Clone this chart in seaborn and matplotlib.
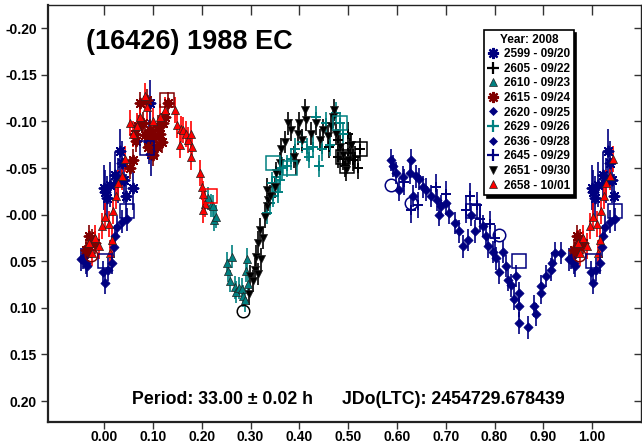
import matplotlib
matplotlib.use("Agg")
import matplotlib.pyplot as plt
from matplotlib.lines import Line2D
import numpy as np
import pandas as pd
import seaborn as sns

# sessions: label, colour, marker
sessions = ["2599 - 09/20", "2605 - 09/22", "2610 - 09/23", "2615 - 09/24", "2620 - 09/25",
            "2629 - 09/26", "2636 - 09/28", "2645 - 09/29", "2651 - 09/30", "2658 - 10/01"]
colors = ["#000080", "#000000", "#008080", "#800000", "#000080",
          "#008080", "#000080", "#000080", "#000000", "#ff0000"]
markers = [(8, 2, 0), "+", "^", (8, 2, 0), "D", "+", "D", "+", "v", "^"]
errors = [0.024, 0.012, 0.012, 0.012, 0.012, 0.012, 0.012, 0.014, 0.012, 0.014]

# phase / reduced magnitude per session (phase 0..1)
p2599 = [0.999, 0.005, 0.002, 0.012, 0.022, 0.029, 0.033, 0.036, 0.040, 0.045, 0.060, 0.094, 0.092, 0.097]
m2599 = [-0.029, -0.018, -0.024, -0.032, -0.043, -0.037, -0.068, -0.055, -0.037, -0.020, -0.029, -0.120, -0.078, -0.065]

p2605 = [0.460, 0.480, 0.480, 0.490, 0.493, 0.500, 0.500, 0.503, 0.510, 0.514, 0.520, 0.524]
m2605 = [-0.073, -0.080, -0.062, -0.060, -0.052, -0.087, -0.066, -0.077, -0.059, -0.062, -0.050, -0.070]

p2610 = [0.213, 0.218, 0.224, 0.226, 0.230, 0.251, 0.254, 0.258, 0.262, 0.268, 0.270, 0.277, 0.282, 0.285,
         0.288, 0.290, 0.292, 0.295]
m2610 = [-0.018, -0.010, -0.009, 0.006, 0.002, 0.052, 0.060, 0.071, 0.045, 0.078, 0.083, 0.079, 0.080, 0.087,
         0.092, 0.060, 0.048, 0.074]

p2615 = [0.962, 0.965, 0.968, 0.970, 0.975, 0.982, 0.053, 0.060, 0.063, 0.066, 0.070, 0.074, 0.080, 0.084,
         0.087, 0.090, 0.094, 0.098, 0.101, 0.104, 0.108, 0.111, 0.114, 0.118, 0.121, 0.125, 0.131]
m2615 = [0.038, 0.041, 0.023, 0.034, 0.027, 0.030, -0.050, -0.059, -0.087, -0.079, -0.095, -0.120, -0.098, -0.085,
         -0.123, -0.073, -0.091, -0.082, -0.064, -0.084, -0.073, -0.095, -0.087, -0.078, -0.098, -0.105, -0.120]

p2620 = [0.588, 0.592, 0.598, 0.605, 0.612, 0.626, 0.629, 0.633, 0.639, 0.646, 0.653, 0.660, 0.670, 0.683,
         0.690, 0.687, 0.700, 0.707, 0.718, 0.728, 0.735, 0.745, 0.752, 0.759]
m2620 = [-0.059, -0.052, -0.045, -0.027, -0.040, -0.045, -0.059, -0.020, -0.041, -0.038, -0.030, -0.027, -0.020, -0.016,
         -0.009, 0.000, -0.012, -0.002, 0.009, 0.018, 0.034, 0.027, 0.000, 0.018]

p2629 = [0.333, 0.339, 0.343, 0.346, 0.352, 0.356, 0.360, 0.365, 0.374, 0.382, 0.392, 0.405, 0.415, 0.420,
         0.428, 0.435, 0.440, 0.446, 0.455, 0.462, 0.476, 0.483, 0.490]
m2629 = [-0.002, -0.012, -0.034, -0.020, -0.040, -0.024, -0.037, -0.050, -0.052, -0.060, -0.070, -0.078, -0.070, -0.062,
         -0.073, -0.105, -0.052, -0.070, -0.098, -0.075, -0.109, -0.098, -0.087]

p2636 = [0.776, 0.783, 0.786, 0.796, 0.803, 0.810, 0.817, 0.824, 0.827, 0.834, 0.840, 0.844, 0.851, 0.851,
         0.850, 0.868, 0.881, 0.885, 0.895, 0.895, 0.905, 0.915, 0.918, 0.923, 0.936, 0.953, 0.956, 0.963,
         0.965, 0.998, 0.002, 0.008, 0.016, 0.022, 0.027, 0.037, 0.047, 0.020]
m2636 = [0.0125, 0.023, 0.034, 0.040, 0.047, 0.062, 0.040, 0.055, 0.070, 0.076, 0.090, 0.066, 0.084, 0.098,
         0.116, 0.121, 0.098, 0.107, 0.084, 0.077, 0.066, 0.059, 0.052, 0.041, 0.041, 0.048, 0.046, 0.052,
         0.055, 0.062, 0.073, 0.059, 0.052, 0.023, 0.013, 0.0075, 0.005, 0.035]

p2645 = [0.615, 0.629, 0.643, 0.680, 0.700, 0.742, 0.750, 0.765, 0.790, 0.800, 0.770]
m2645 = [-0.035, -0.005, -0.010, -0.030, -0.022, -0.005, -0.020, -0.010, 0.010, 0.025, 0.005]

p2651 = [0.296, 0.299, 0.305, 0.309, 0.312, 0.315, 0.316, 0.319, 0.322, 0.326, 0.329, 0.333, 0.336, 0.333,
         0.340, 0.350, 0.353, 0.360, 0.362, 0.370, 0.377, 0.383, 0.390, 0.394, 0.397, 0.400, 0.405, 0.411,
         0.414, 0.424, 0.435, 0.442, 0.449, 0.459, 0.465, 0.469, 0.472, 0.476, 0.483, 0.489, 0.496, 0.499, 0.505]
m2651 = [0.085, 0.066, 0.071, 0.059, 0.045, 0.064, 0.030, 0.016, 0.048, 0.025, 0.002, -0.009, -0.016, -0.027,
         -0.020, -0.030, -0.045, -0.055, -0.070, -0.078, -0.098, -0.091, -0.062, -0.055, -0.087, -0.098, -0.080, -0.112,
         -0.102, -0.087, -0.098, -0.080, -0.091, -0.084, -0.095, -0.105, -0.112, -0.087, -0.073, -0.064, -0.048, -0.059, -0.075]

p2658 = [0.970, 0.975, 0.982, 0.990, 0.995, 0.002, 0.009, 0.012, 0.016, 0.019, 0.024, 0.029, 0.036, 0.042,
         0.053, 0.060, 0.067, 0.074, 0.084, 0.087, 0.100, 0.115, 0.125, 0.145, 0.149, 0.155, 0.158, 0.162,
         0.167, 0.172, 0.179, 0.179, 0.181, 0.196, 0.200, 0.203, 0.206, 0.203]
m2658 = [0.030, 0.041, 0.025, 0.034, 0.0125, 0.002, 0.010, 0.041, 0.027, -0.004, -0.020, -0.034, -0.041, -0.060,
         -0.098, -0.087, -0.095, -0.105, -0.127, -0.116, -0.100, -0.105, -0.112, -0.112, -0.096, -0.075, -0.092, -0.091,
         -0.087, -0.080, -0.087, -0.062, -0.073, -0.045, -0.030, -0.022, -0.011, -0.005]

phases = [p2599, p2605, p2610, p2615, p2620, p2629, p2636, p2645, p2651, p2658]
mags = [m2599, m2605, m2610, m2615, m2620, m2629, m2636, m2645, m2651, m2658]

# open squares / circles (session index, shape)
mark_phase = [0.088, 0.047, 0.002, 0.128, 0.217, 0.346, 0.380, 0.483, 0.497, 0.490, 0.524,
              0.755, 0.851, 0.285, 0.588, 0.629, 0.810, 0.973]
mark_mag = [-0.072, -0.004, 0.050, -0.123, -0.020, -0.055, -0.050, -0.098, -0.052, -0.062, -0.070,
            -0.004, 0.050, 0.103, -0.032, -0.012, 0.022, 0.043]
mark_sess = [0, 6, 6, 3, 9, 5, 5, 5, 1, 1, 1, 6, 6, 8, 6, 7, 6, 3]
mark_shape = ["s", "s", "s", "s", "s", "s", "s", "s", "s", "s", "s", "s", "s", "o", "o", "o", "o", "o"]


def wrap(df):
    lo = df[df["phase"] > 0.95].assign(phase=lambda d: d["phase"] - 1)
    hi = df[df["phase"] < 0.05].assign(phase=lambda d: d["phase"] + 1)
    return pd.concat([df, lo, hi], ignore_index=True)


frames = []
for i, (p, m) in enumerate(zip(phases, mags)):
    frames.append(pd.DataFrame({"phase": p, "mag": m, "sess": i}))
data = wrap(pd.concat(frames, ignore_index=True))
marks = wrap(pd.DataFrame({"phase": mark_phase, "mag": mark_mag, "sess": mark_sess, "shape": mark_shape}))

sns.set_style("ticks")
plt.rcParams["font.family"] = ["Liberation Sans", "DejaVu Sans"]
plt.rcParams["font.weight"] = "bold"
plt.rcParams["axes.unicode_minus"] = False
plt.rcParams["text.color"] = "black"
plt.rcParams["xtick.color"] = "black"
plt.rcParams["ytick.color"] = "black"
plt.rcParams["axes.edgecolor"] = "black"

fig = plt.figure(figsize=(6.42, 4.45), dpi=100)
ax = fig.add_axes([48 / 642, 23 / 445, 593 / 642, 417 / 445])

for i in range(len(sessions)):
    d = data[data["sess"] == i]
    ax.errorbar(d["phase"], d["mag"], yerr=errors[i], fmt="none", ecolor=colors[i], elinewidth=1.2, zorder=2)

for i in range(len(sessions)):
    d = data[data["sess"] == i]
    mk = markers[i]
    filled = mk in ("^", "v", "D")
    if filled:
        edge = "#222222" if mk in ("^", "v") else colors[i]
        sns.scatterplot(data=d, x="phase", y="mag", ax=ax, marker=mk, color=colors[i], edgecolor=edge,
                        linewidth=0.5, s=34 if mk != "D" else 22, zorder=3, legend=False)
    else:
        sns.scatterplot(data=d, x="phase", y="mag", ax=ax, marker=mk, color=colors[i], edgecolor=colors[i],
                        linewidth=1.4, s=50, zorder=3, legend=False)

for _, r in marks.iterrows():
    ax.plot(r["phase"], r["mag"], marker=r["shape"], ms=10 if r["shape"] == "s" else 9, mfc="none",
            mec=colors[int(r["sess"])], mew=1.1, ls="none", zorder=4)

ax.set_xlim(-0.115, 1.10)
ax.set_ylim(0.2225, -0.225)
ax.set_xticks(np.arange(0, 1.01, 0.1))
ax.set_yticks(np.arange(-0.20, 0.201, 0.05))
ax.xaxis.set_major_formatter(matplotlib.ticker.FormatStrFormatter("%.2f"))
ax.yaxis.set_major_formatter(matplotlib.ticker.FormatStrFormatter("%.2f"))
ax.set_xlabel("")
ax.set_ylabel("")
ax.tick_params(axis="both", which="major", labelsize=10, width=1, length=5, color="#333333")
ax.tick_params(axis="x", top=True, direction="out", pad=1)
ax.tick_params(axis="y", right=True, direction="out", pad=3)
for t in ax.xaxis.get_major_ticks():
    t.tick2line.set_marker(matplotlib.lines.TICKDOWN)
    t.tick2line.set_markersize(7)
for t in ax.yaxis.get_major_ticks():
    t.tick2line.set_marker(matplotlib.lines.TICKLEFT)
for lab in ax.get_xticklabels() + ax.get_yticklabels():
    lab.set_fontweight("bold")
for side in ["left", "bottom"]:
    ax.spines[side].set_linewidth(1.6)
    ax.spines[side].set_color("#222222")
for side in ["top", "right"]:
    ax.spines[side].set_visible(True)
    ax.spines[side].set_linewidth(1.0)
    ax.spines[side].set_color("#222222")

ax.text(0.064, 0.911, "(16426) 1988 EC", transform=ax.transAxes, fontsize=19.5, fontweight="bold",
        va="center", ha="left")
ax.text(0.142, 0.053, "Period: 33.00 \u00b1 0.02 h", transform=ax.transAxes, fontsize=12.8,
        fontweight="bold", va="center", ha="left")
ax.text(0.496, 0.053, "JDo(LTC): 2454729.678439", transform=ax.transAxes, fontsize=12.8,
        fontweight="bold", va="center", ha="left")

handles = []
for i in range(len(sessions)):
    mk = markers[i]
    filled = mk in ("^", "v", "D")
    handles.append(Line2D([], [], ls="none", marker=mk, color=colors[i],
                          mec=("#222222" if mk in ("^", "v") else colors[i]),
                          mew=(0.5 if filled else 1.6), ms=(6 if mk != "D" else 4.5) if filled else 8))
leg = ax.legend(handles, sessions, title="Year: 2008", loc="upper left", bbox_to_anchor=(0.735, 0.94),
                borderaxespad=0, fontsize=8.5, title_fontsize=8.5, labelspacing=0.22, handlelength=1.0,
                handletextpad=0.4, borderpad=0.3, fancybox=False, edgecolor="black",
                shadow={"color": "black", "alpha": 1.0}, framealpha=1)
leg.get_frame().set_linewidth(1.2)
leg.get_title().set_fontweight("bold")
for t in leg.get_texts():
    t.set_fontweight("bold")

fig.savefig("out.png", dpi=100)
